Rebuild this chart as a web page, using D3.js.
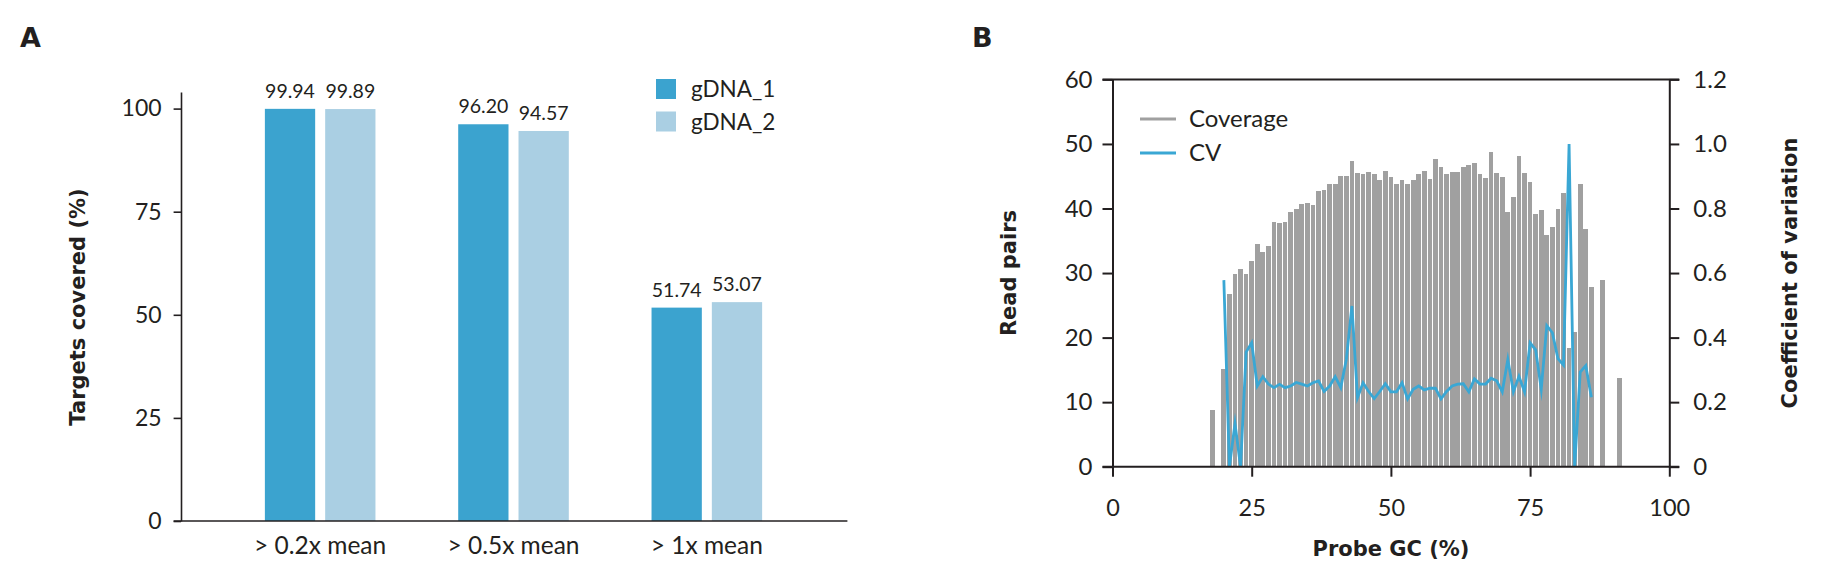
<!DOCTYPE html>
<html><head><meta charset="utf-8">
<script src="https://cdn.jsdelivr.net/npm/d3@7"></script>
<style>
html,body{margin:0;padding:0;background:#fff;}
svg{display:block;}
text{font-family:Lato,"Open Sans",sans-serif;fill:#231f20;}
.ttl{font-family:"DejaVu Sans",sans-serif;font-weight:bold;}
</style></head><body>
<svg id="chart" width="1832" height="570"></svg>
<script>
// ---------- Panel A data ----------
const categories = ["> 0.2x mean", "> 0.5x mean", "> 1x mean"];
const seriesNames = ["gDNA_1", "gDNA_2"];
const gdna1 = [99.94, 96.20, 51.74];
const gdna2 = [99.89, 94.57, 53.07];
const yTicksA = [0, 25, 50, 75, 100];
const colorsA = ["#3ba3cf", "#aacfe3"];

// ---------- Panel B data ----------
const coverageGC = [18, 20, 21, 22, 23, 24, 25, 26, 27, 28, 29, 30, 31, 32, 33, 34, 35, 36, 37, 38, 39, 40,
  41, 42, 43, 44, 45, 46, 47, 48, 49, 50, 51, 52, 53, 54, 55, 56, 57, 58, 59, 60, 61, 62, 63, 64, 65,
  66, 67, 68, 69, 70, 71, 72, 73, 74, 75, 76, 77, 78, 79, 80, 81, 82, 83, 84, 85, 86, 88, 91];
const coverage = [8.8, 15.2, 26.8, 29.8, 30.6, 29.8, 31.8, 34.5, 33.3, 34.2, 37.9, 37.7, 37.9, 39.5, 40.0,
  40.7, 40.9, 40.5, 42.7, 42.9, 43.8, 43.8, 45.0, 45.0, 47.3, 45.5, 45.3, 45.6, 45.3, 44.4, 45.8, 44.9,
  43.8, 44.4, 43.8, 44.4, 45.3, 45.8, 44.6, 47.6, 46.4, 45.3, 45.6, 45.6, 46.4, 46.7, 47.0, 45.3, 44.7,
  48.8, 45.5, 44.9, 39.4, 41.8, 48.1, 45.5, 44.1, 39.2, 39.8, 35.9, 37.1, 40.0, 42.4, 18.4, 20.8, 43.8,
  36.8, 27.8, 28.9, 13.8];
const cvGC = [20, 21, 22, 23, 24, 25, 26, 27, 28, 29, 30, 31, 32, 33, 34, 35, 36, 37, 38, 39, 40, 41, 42,
  43, 44, 45, 46, 47, 48, 49, 50, 51, 52, 53, 54, 55, 56, 57, 58, 59, 60, 61, 62, 63, 64, 65, 66, 67,
  68, 69, 70, 71, 72, 73, 74, 75, 76, 77, 78, 79, 80, 81, 82, 83, 84, 85, 86];
const cv = [0.578, 0, 0.134, 0, 0.355, 0.384, 0.25, 0.279, 0.256, 0.245, 0.255, 0.245, 0.25, 0.261, 0.256,
  0.25, 0.26, 0.266, 0.233, 0.25, 0.279, 0.245, 0.333, 0.498, 0.214, 0.26, 0.233, 0.211, 0.233, 0.257,
  0.232, 0.232, 0.26, 0.21, 0.24, 0.25, 0.238, 0.243, 0.243, 0.21, 0.233, 0.25, 0.256, 0.257, 0.232,
  0.272, 0.256, 0.256, 0.274, 0.266, 0.232, 0.332, 0.232, 0.28, 0.232, 0.384, 0.362, 0.24, 0.437, 0.415,
  0.335, 0.315, 1.0, 0, 0.293, 0.313, 0.215];
const xTicksB = [0, 25, 50, 75, 100];
const yTicksB = [0, 10, 20, 30, 40, 50, 60];
const yTicksR = [0, 0.2, 0.4, 0.6, 0.8, 1.0, 1.2];
const legendB = ["Coverage", "CV"];
const barGray = "#a0a0a0", cvBlue = "#3aa7d4", axisCol = "#231f20";

const svg = d3.select("#chart");

// ================= Panel A =================
const gA = svg.append("g");
const xA = d3.scaleBand().domain(categories).range([223.5, 803.5]).paddingInner(0.428).paddingOuter(0.214);
const xSub = d3.scaleBand().domain(seriesNames).range([0, xA.bandwidth()]).paddingInner(0.166);
const yA = d3.scaleLinear().domain([0, 104]).range([521, 92.1]);

const rowsA = categories.map((c, i) => ({cat: c, vals: [gdna1[i], gdna2[i]]}));
const grp = gA.selectAll("g.grp").data(rowsA).join("g").attr("class", "grp")
  .attr("transform", d => `translate(${xA(d.cat)},0)`);
grp.selectAll("rect").data(d => d.vals.map((v, j) => ({s: seriesNames[j], v, j}))).join("rect")
  .attr("x", d => xSub(d.s)).attr("width", xSub.bandwidth())
  .attr("y", d => yA(d.v)).attr("height", d => yA(0) - yA(d.v))
  .attr("fill", d => colorsA[d.j]);
grp.selectAll("text.val").data(d => d.vals.map((v, j) => ({s: seriesNames[j], v}))).join("text")
  .attr("class", "val")
  .attr("x", d => xSub(d.s) + xSub.bandwidth() / 2).attr("y", d => yA(d.v) - 11)
  .attr("text-anchor", "middle").style("font-size", "19.5px").text(d => d.v.toFixed(2));

const axA = gA.append("g").attr("transform", "translate(181,0)")
  .call(d3.axisLeft(yA).tickValues(yTicksA).tickSize(7.4).tickSizeOuter(0).tickPadding(12));
axA.selectAll("path,line").attr("stroke", axisCol).attr("stroke-width", 1.6);
axA.selectAll("text").style("font-size", "23px").style("font-family", "Lato").attr("fill", axisCol);

const axAx = gA.append("g").attr("transform", "translate(0,521)")
  .call(d3.axisBottom(xA).tickSize(0).tickSizeOuter(0));
axAx.select(".domain").remove();
axAx.selectAll("text").attr("y", 33).attr("dy", "0").style("font-size", "24.5px").style("font-family", "Lato").attr("fill", axisCol);
gA.append("line").attr("x1", 173.6).attr("x2", 847.4).attr("y1", 521).attr("y2", 521)
  .attr("stroke", axisCol).attr("stroke-width", 1.6);

// legend A
const legA = gA.append("g");
seriesNames.forEach((s, i) => {
  legA.append("rect").attr("x", 656).attr("y", 79 + i * 32.5).attr("width", 20).attr("height", 20).attr("fill", colorsA[i]);
  legA.append("text").attr("x", 691).attr("y", 97 + i * 32.5).style("font-size", "22.5px").text(s);
});

gA.append("text").attr("class", "ttl").attr("transform", "translate(85,307) rotate(-90)")
  .attr("text-anchor", "middle").style("font-size", "21px").text("Targets covered (%)");
svg.append("text").attr("class", "ttl").attr("x", 20).attr("y", 47).style("font-size", "27px").text("A");

// ================= Panel B =================
const gB = svg.append("g");
const xB = d3.scaleLinear().domain([0, 100]).range([1112.5, 1669.3]);
const yB = d3.scaleLinear().domain([0, 60]).range([466.7, 79.4]);
const yR = d3.scaleLinear().domain([0, 1.2]).range([466.7, 79.4]);
const step = xB(1) - xB(0);
const bw = step * 0.85;

gB.append("g").selectAll("rect").data(coverageGC.map((g, i) => ({g, v: coverage[i]}))).join("rect")
  .attr("x", d => xB(d.g) - bw / 2).attr("width", bw)
  .attr("y", d => yB(d.v)).attr("height", d => yB(0) - yB(d.v))
  .attr("fill", barGray).attr("shape-rendering", "crispEdges");

const line = d3.line().x(d => xB(d.g)).y(d => yR(d.v));
gB.append("path").datum(cvGC.map((g, i) => ({g, v: cv[i]})))
  .attr("d", line).attr("fill", "none").attr("stroke", cvBlue).attr("stroke-width", 2.8)
  .attr("stroke-linejoin", "miter").attr("stroke-miterlimit", 10);

function styleAxis(sel, fs) {
  sel.selectAll("path,line").attr("stroke", axisCol).attr("stroke-width", 2);
  sel.selectAll("text").style("font-size", fs).style("font-family", "Lato").attr("fill", axisCol);
}
const axL = gB.append("g").attr("transform", `translate(${xB(0)},0)`)
  .call(d3.axisLeft(yB).tickValues(yTicksB).tickSize(10).tickSizeOuter(0).tickPadding(10));
styleAxis(axL, "24px");
const axR = gB.append("g").attr("transform", `translate(${xB(100)},0)`)
  .call(d3.axisRight(yR).tickValues(yTicksR).tickSize(10).tickSizeOuter(0).tickPadding(14)
    .tickFormat(d => d === 0 ? "0" : d.toFixed(1)));
styleAxis(axR, "24px");
const axBt = gB.append("g").attr("transform", `translate(0,${yB(0)})`)
  .call(d3.axisBottom(xB).tickValues(xTicksB).tickSize(10).tickSizeOuter(0));
axBt.select(".domain").remove();
styleAxis(axBt, "23.5px");
axBt.selectAll("text").attr("y", 49).attr("dy", "0");
[yB(0), yB(60)].forEach(yy => {
  gB.append("line").attr("x1", xB(0) - 10).attr("x2", xB(100) + 10).attr("y1", yy).attr("y2", yy)
    .attr("stroke", axisCol).attr("stroke-width", 2);
});

// legend B
const legB = gB.append("g");
[barGray, cvBlue].forEach((c, i) => {
  legB.append("line").attr("x1", 1140).attr("x2", 1176).attr("y1", 119 + i * 34).attr("y2", 119 + i * 34)
    .attr("stroke", c).attr("stroke-width", 3);
  legB.append("text").attr("x", 1189).attr("y", 127 + i * 34).style("font-size", "24px").text(legendB[i]);
});

gB.append("text").attr("class", "ttl").attr("transform", "translate(1016,273) rotate(-90)")
  .attr("text-anchor", "middle").style("font-size", "21px").text("Read pairs");
gB.append("text").attr("class", "ttl").attr("transform", "translate(1797,273) rotate(-90)")
  .attr("text-anchor", "middle").style("font-size", "21px").text("Coefficient of variation");
gB.append("text").attr("class", "ttl").attr("x", 1391).attr("y", 556)
  .attr("text-anchor", "middle").style("font-size", "21px").text("Probe GC (%)");
svg.append("text").attr("class", "ttl").attr("x", 972).attr("y", 47).style("font-size", "27px").text("B");
</script>
</body></html>
